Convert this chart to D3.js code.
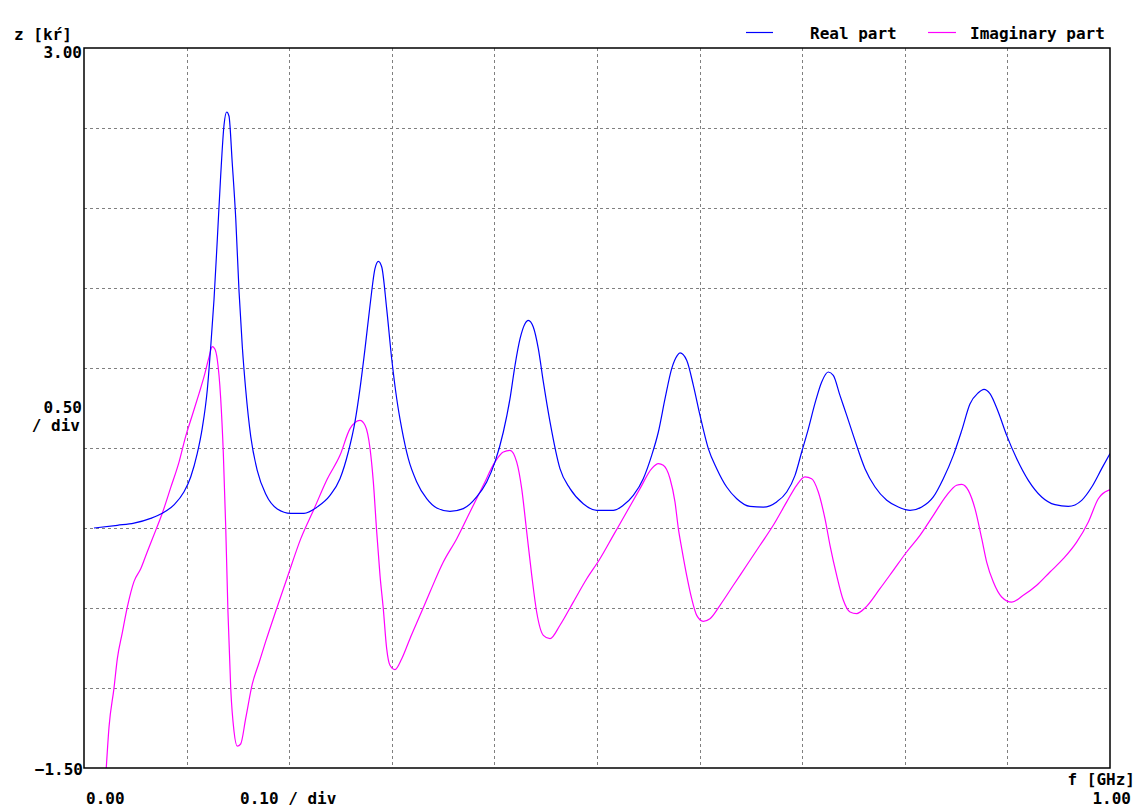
<!DOCTYPE html>
<html><head><meta charset="utf-8">
<script src="https://cdn.jsdelivr.net/npm/d3@7"></script>
<style>
html,body{margin:0;padding:0;background:#fff;}
text{font-family:"DejaVu Sans Mono",monospace;font-size:16px;font-weight:bold;fill:#000;}
</style></head>
<body>
<svg id="chart" width="1144" height="808"></svg>
<script>
// Frequencies (GHz) and values (kΩ)
const realF = [0.0097,0.0325,0.0487,0.0650,0.0763,0.0877,0.0975,0.1040,0.1104,0.1153,0.1202,0.1235,0.1267,0.1299,0.1332,0.1365,0.1391,0.1413,0.1445,0.1479,0.1511,0.1543,0.1576,0.1625,0.1689,0.1771,0.1884,0.2015,0.2144,0.2274,0.2398,0.2495,0.2576,0.2641,0.2690,0.2739,0.2788,0.2836,0.2869,0.2902,0.2950,0.2999,0.3048,0.3097,0.3161,0.3243,0.3340,0.3438,0.3567,0.3697,0.3827,0.3925,0.4006,0.4087,0.4152,0.4201,0.4250,0.4298,0.4330,0.4379,0.4428,0.4477,0.4542,0.4639,0.4737,0.4866,0.4997,0.5159,0.5256,0.5354,0.5451,0.5533,0.5598,0.5663,0.5728,0.5783,0.5809,0.5874,0.5939,0.6004,0.6085,0.6167,0.6264,0.6362,0.6491,0.6621,0.6751,0.6849,0.6930,0.6995,0.7060,0.7125,0.7190,0.7254,0.7303,0.7368,0.7434,0.7498,0.7612,0.7710,0.7824,0.7937,0.8051,0.8165,0.8278,0.8375,0.8473,0.8555,0.8635,0.8716,0.8772,0.8830,0.8911,0.8993,0.9091,0.9204,0.9334,0.9464,0.9594,0.9724,0.9822,0.9919,1.0000];
const realZ = [0.000,0.017,0.030,0.060,0.092,0.145,0.226,0.319,0.466,0.626,0.866,1.133,1.427,1.800,2.200,2.520,2.600,2.575,2.280,1.934,1.480,1.133,0.866,0.573,0.359,0.212,0.119,0.092,0.092,0.132,0.204,0.308,0.475,0.663,0.871,1.121,1.392,1.621,1.667,1.631,1.371,1.058,0.808,0.621,0.433,0.288,0.183,0.125,0.104,0.121,0.194,0.288,0.413,0.600,0.808,1.017,1.183,1.277,1.298,1.256,1.121,0.913,0.663,0.371,0.246,0.152,0.110,0.110,0.142,0.204,0.308,0.454,0.600,0.808,0.996,1.079,1.094,1.048,0.892,0.704,0.496,0.371,0.256,0.183,0.135,0.131,0.163,0.225,0.329,0.475,0.620,0.780,0.913,0.975,0.954,0.829,0.704,0.579,0.371,0.256,0.173,0.131,0.110,0.131,0.194,0.308,0.454,0.610,0.775,0.845,0.867,0.840,0.725,0.579,0.433,0.298,0.194,0.146,0.135,0.173,0.256,0.371,0.465];

const imagF = [0.0217,0.0244,0.0292,0.0325,0.0373,0.0422,0.0487,0.0553,0.0617,0.0699,0.0763,0.0845,0.0926,0.0991,0.1056,0.1121,0.1170,0.1218,0.1250,0.1274,0.1299,0.1332,0.1358,0.1381,0.1403,0.1430,0.1462,0.1494,0.1527,0.1576,0.1640,0.1706,0.1771,0.1868,0.1982,0.2112,0.2242,0.2371,0.2495,0.2593,0.2690,0.2739,0.2788,0.2820,0.2853,0.2885,0.2917,0.2950,0.2982,0.3031,0.3097,0.3177,0.3275,0.3372,0.3502,0.3633,0.3762,0.3892,0.4006,0.4087,0.4152,0.4217,0.4266,0.4315,0.4364,0.4412,0.4477,0.4542,0.4639,0.4769,0.4900,0.5029,0.5159,0.5289,0.5419,0.5533,0.5598,0.5646,0.5712,0.5760,0.5793,0.5826,0.5874,0.5923,0.5972,0.6036,0.6101,0.6199,0.6329,0.6459,0.6589,0.6718,0.6849,0.6946,0.7027,0.7092,0.7157,0.7222,0.7271,0.7336,0.7401,0.7466,0.7531,0.7612,0.7758,0.7888,0.8018,0.8148,0.8278,0.8408,0.8505,0.8555,0.8619,0.8684,0.8750,0.8798,0.8863,0.8944,0.9042,0.9155,0.9286,0.9415,0.9545,0.9675,0.9789,0.9886,0.9984,1.0000];
const imagZ = [-1.500,-1.243,-1.002,-0.816,-0.655,-0.495,-0.335,-0.255,-0.148,-0.015,0.092,0.252,0.412,0.573,0.706,0.840,0.946,1.066,1.133,1.120,1.053,0.813,0.466,0.012,-0.522,-1.002,-1.270,-1.363,-1.350,-1.190,-0.976,-0.842,-0.709,-0.522,-0.308,-0.068,0.119,0.306,0.454,0.621,0.673,0.642,0.496,0.288,-0.025,-0.296,-0.504,-0.754,-0.858,-0.885,-0.817,-0.692,-0.546,-0.400,-0.213,-0.067,0.100,0.267,0.413,0.475,0.485,0.413,0.246,-0.025,-0.296,-0.525,-0.671,-0.692,-0.608,-0.463,-0.317,-0.192,-0.046,0.100,0.246,0.371,0.402,0.392,0.308,0.163,-0.004,-0.129,-0.296,-0.442,-0.546,-0.583,-0.567,-0.483,-0.358,-0.233,-0.108,0.017,0.163,0.267,0.319,0.308,0.225,0.058,-0.108,-0.296,-0.452,-0.525,-0.535,-0.500,-0.379,-0.265,-0.150,-0.046,0.079,0.204,0.267,0.273,0.235,0.121,-0.067,-0.213,-0.338,-0.431,-0.463,-0.421,-0.358,-0.275,-0.192,-0.088,0.038,0.183,0.235,0.238];

const seriesNames = ["Real part", "Imaginary part"];
const seriesColors = ["#0000ff", "#ff00ff"];
const xDomain = [0, 1.0];
const yDomain = [-1.5, 3.0];
const xTicks = d3.range(0, 1.0001, 0.1);
const yTicks = d3.range(-1.5, 3.0001, 0.5);

const svg = d3.select("#chart");
const L = 84, R = 1110, T = 48, B = 768;
const x = d3.scaleLinear().domain(xDomain).range([L, R]);
const y = d3.scaleLinear().domain(yDomain).range([B, T]);

// grid
const grid = svg.append("g").attr("stroke", "#808080").attr("stroke-dasharray", "3,3").attr("stroke-width", 1);
grid.selectAll("line.v").data(xTicks.slice(1, -1)).enter().append("line")
  .attr("x1", d => Math.round(x(d)) + 0.5).attr("x2", d => Math.round(x(d)) + 0.5)
  .attr("y1", T).attr("y2", B);
grid.selectAll("line.h").data(yTicks.slice(1, -1)).enter().append("line")
  .attr("y1", d => Math.round(y(d)) + 0.5).attr("y2", d => Math.round(y(d)) + 0.5)
  .attr("x1", L).attr("x2", R);

// clip
svg.append("clipPath").attr("id", "clip").append("rect")
  .attr("x", L).attr("y", T).attr("width", R - L).attr("height", B - T);

const line = d3.line().x(d => x(d[0])).y(d => y(d[1])).curve(d3.curveMonotoneX);
const realData = realF.map((f, i) => [f, realZ[i]]);
const imagData = imagF.map((f, i) => [f, imagZ[i]]);
const plot = svg.append("g").attr("clip-path", "url(#clip)");
plot.append("path").datum(imagData).attr("d", line).attr("fill", "none").attr("stroke", seriesColors[1]).attr("stroke-width", 1.2);
plot.append("path").datum(realData).attr("d", line).attr("fill", "none").attr("stroke", seriesColors[0]).attr("stroke-width", 1.2);

// frame
svg.append("rect").attr("x", L).attr("y", T).attr("width", R - L).attr("height", B - T)
  .attr("fill", "none").attr("stroke", "#000").attr("stroke-width", 1.5);

// texts
function t(txt, xx, yy, anchor) {
  svg.append("text").attr("x", xx).attr("y", yy).attr("text-anchor", anchor || "start").text(txt);
}
t("z [kŕ]", 14, 40);
t(d3.format(".2f")(yDomain[1]), 82, 58, "end");
t(d3.format(".2f")(yTicks[4]), 82, 413, "end");
t("/ div", 80, 431, "end");
t(d3.format(".2f")(yDomain[0]), 83, 775, "end");
t(d3.format(".2f")(xDomain[0]), 86, 804);
t(d3.format(".2f")(xTicks[1]) + " / div", 240, 804);
t("f [GHz]", 1135, 785, "end");
t(d3.format(".2f")(xDomain[1]), 1131, 804, "end");

// legend
const lg = [[746, 773, 810], [928, 956, 970]];
seriesNames.forEach((n, i) => {
  svg.append("line").attr("x1", lg[i][0]).attr("x2", lg[i][1]).attr("y1", 32.5).attr("y2", 32.5)
    .attr("stroke", seriesColors[i]).attr("stroke-width", 1.2);
  t(n, lg[i][2], 39);
});
</script>
</body></html>
